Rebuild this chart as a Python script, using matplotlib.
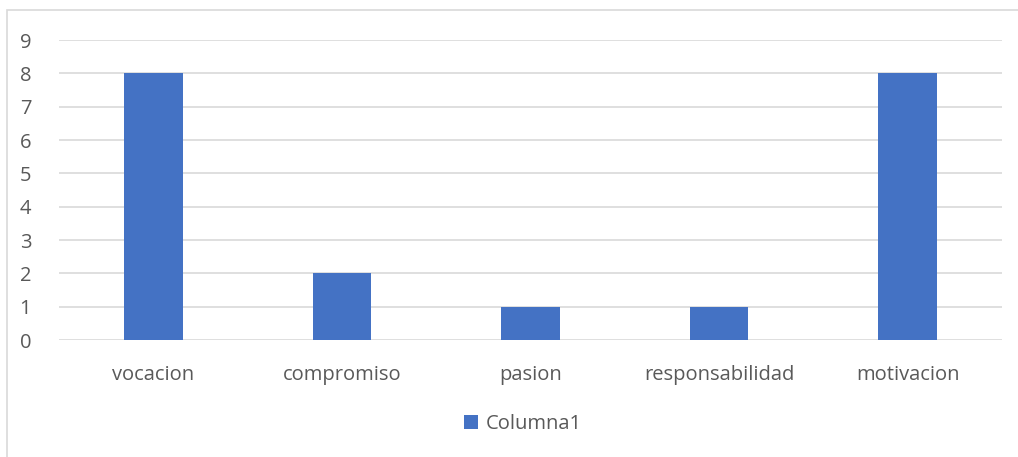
import matplotlib.pyplot as plt
from matplotlib.patches import Rectangle

# valores
categorias = ["vocacion", "compromiso", "pasion", "responsabilidad", "motivacion"]
valores = [8, 2, 1, 1, 8]
serie = "Columna1"

plt.rcParams['font.family'] = ['Open Sans', 'DejaVu Sans']

W, H = 1018, 457
fig = plt.figure(figsize=(W / 100, H / 100), dpi=100)

# marco del grafico (sigue fuera de la imagen por abajo y a la derecha)
fig.patches.append(Rectangle((7 / W, -0.2), 1.2, 1.2 - 10 / H, transform=fig.transFigure,
                             fill=False, edgecolor='#d9d9d9', linewidth=1.2))

ax = fig.add_axes([59 / W, 1 - 340 / H, (1002 - 59) / W, 300 / H])
x = range(len(categorias))
ax.bar(x, valores, width=0.31, color='#4472c4', label=serie, zorder=3)

ax.set_xlim(-0.5, len(categorias) - 0.5)
ax.set_ylim(0, 9)
ax.set_yticks(range(0, 10))
ax.set_xticks(list(x))
ax.set_xticklabels(categorias)
ax.grid(axis='y', color='#d9d9d9', linewidth=1.2, zorder=0)
for s in ax.spines.values():
    s.set_visible(False)
ax.tick_params(length=0, labelsize=14.5, colors='#595959', pad=18)
ax.tick_params(axis='y', pad=20)

leg = fig.legend(loc='center', bbox_to_anchor=(523 / W, 1 - 424 / H), frameon=False,
                 fontsize=14.5, handlelength=0.7, handleheight=0.7, handletextpad=0.4)
for t in leg.get_texts():
    t.set_color('#595959')

fig.savefig('out.png', dpi=100)
